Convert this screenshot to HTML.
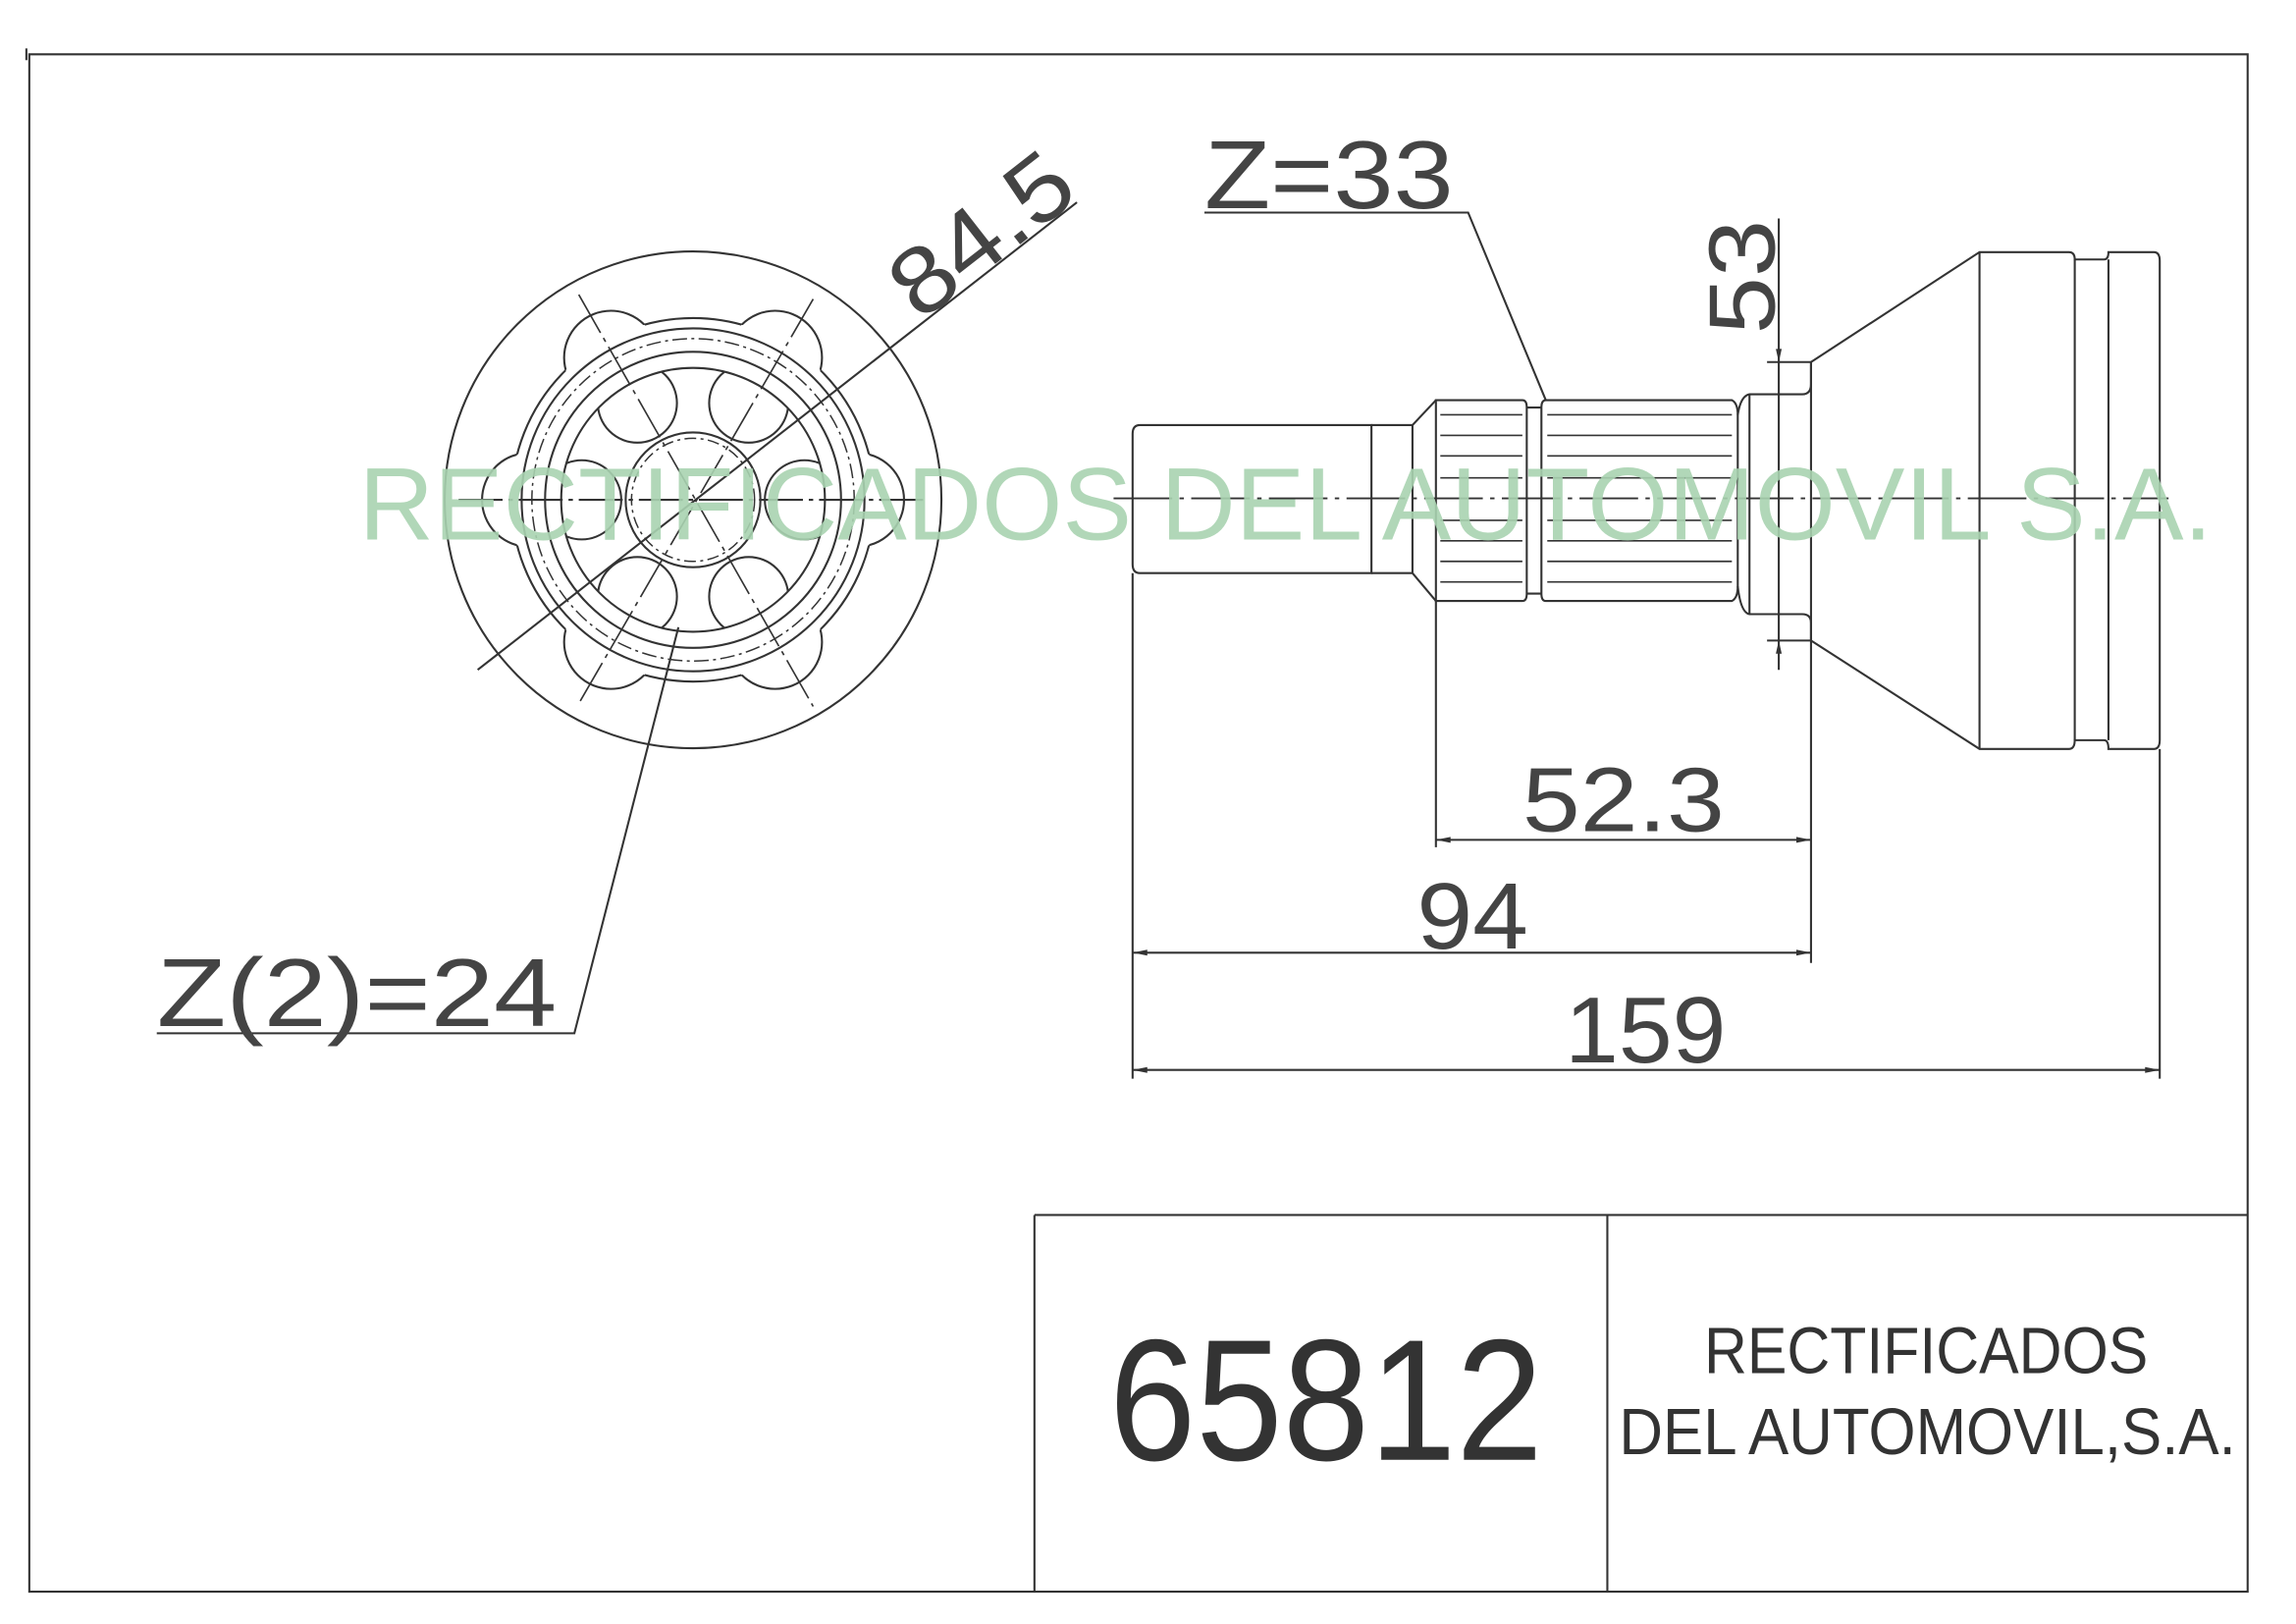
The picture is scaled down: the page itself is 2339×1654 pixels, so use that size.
<!DOCTYPE html>
<html><head><meta charset="utf-8"><style>html,body{margin:0;padding:0;background:#fff}svg{display:block}</style></head>
<body>
<svg width="2339" height="1654" viewBox="0 0 1567 1108" xmlns="http://www.w3.org/2000/svg">
<defs>
<mask id="outBase" maskUnits="userSpaceOnUse" x="0" y="0" width="1600" height="1200"><rect x="0" y="0" width="1600" height="1200" fill="white"/><circle cx="473" cy="341" r="124" fill="black"/></mask>
<mask id="outLobes" maskUnits="userSpaceOnUse" x="0" y="0" width="1600" height="1200"><rect x="0" y="0" width="1600" height="1200" fill="white"/>
<g fill="black">
<circle cx="585" cy="341" r="32"/><circle cx="361" cy="341" r="32"/>
<circle cx="529" cy="438" r="32"/><circle cx="417" cy="438" r="32"/>
<circle cx="529" cy="244" r="32"/><circle cx="417" cy="244" r="32"/></g></mask>
<mask id="ring" maskUnits="userSpaceOnUse" x="0" y="0" width="1600" height="1200"><rect x="0" y="0" width="1600" height="1200" fill="black"/><circle cx="473" cy="341" r="90" fill="white"/><circle cx="473" cy="341" r="46" fill="black"/></mask>
</defs>
<g fill="none" stroke="#333" stroke-width="1.4">
<path d="M20 37 H1534 V1086 H20 Z"/>
<path d="M18 33 V41"/>
<path d="M706 829 H1534 M706 829 V1086 M1097 829 V1086"/>

<circle cx="473" cy="341" r="169.5"/>
<circle cx="473" cy="341" r="124" mask="url(#outLobes)"/>
<g mask="url(#outBase)">
<circle cx="585" cy="341" r="32"/><circle cx="361" cy="341" r="32"/>
<circle cx="529" cy="438" r="32"/><circle cx="417" cy="438" r="32"/>
<circle cx="529" cy="244" r="32"/><circle cx="417" cy="244" r="32"/></g>
<circle cx="473" cy="341" r="117"/>
<circle cx="473" cy="341" r="110" stroke-dasharray="10 3 2 3" stroke-width="1"/>
<circle cx="473" cy="341" r="101"/>
<circle cx="473" cy="341" r="90"/>
<g mask="url(#ring)">
<circle cx="549" cy="341" r="27"/><circle cx="397" cy="341" r="27"/>
<circle cx="511" cy="407" r="27"/><circle cx="435" cy="407" r="27"/>
<circle cx="511" cy="275" r="27"/><circle cx="435" cy="275" r="27"/></g>
<circle cx="473" cy="341" r="46"/>
<circle cx="473" cy="341" r="42" stroke-dasharray="8 3 2 3" stroke-width="1"/>
<path d="M313 341 H634" stroke-dasharray="30 4 3 4"/>
<path d="M395 201 L555 482 M555 204 L395 480" stroke-dasharray="30 4 3 4" stroke-width="1.1"/>
<path d="M326 457 L735 138"/>
<path d="M107 705 H392 L463 428"/>

<path d="M760 340 H1480" stroke-dasharray="40 5 3 5" stroke-width="1.2"/>
<path d="M778 290 H936 V391 H778 Q773 391 773 385 V296 Q773 290 778 290 Z"/>
<path d="M936 290 H964 L980 273 M936 391 H964 L980 410 M964 290 V391"/>
<path d="M980 273 H1039 Q1042 273 1042 278 V405 Q1042 410 1039 410 H980 Z"/>
<path d="M1042 278 H1052 M1042 405 H1052"/>
<path d="M1055 273 H1182 Q1186 275 1186 283 V400 Q1186 408 1182 410 H1055 Q1052 410 1052 405 V278 Q1052 273 1055 273 Z"/>
<g stroke-width="1.1">
<path d="M983 283 H1039 M983 297 H1039 M983 311 H1039 M983 326 H1039 M983 355 H1039 M983 369 H1039 M983 383 H1039 M983 397 H1039"/>
<path d="M1056 283 H1182 M1056 297 H1182 M1056 311 H1182 M1056 326 H1182 M1056 355 H1182 M1056 369 H1182 M1056 383 H1182 M1056 397 H1182"/>
</g>
<path d="M1186 283 Q1188 270 1194 269 H1230 Q1236 269 1236 262 V247 M1186 400 Q1188 418 1194 419 H1230 Q1236 419 1236 425 V437"/>
<path d="M1194 269 V419"/>
<path d="M1236 247 L1351 172 H1412 Q1416 172 1416 177 H1436 Q1439 177 1439 172 H1470 Q1474 172 1474 178 V505 Q1474 511 1470 511 H1439 Q1439 505 1436 505 H1416 Q1416 511 1412 511 H1351 L1236 437"/>
<path d="M1351 172 V511 M1416 177 V505 M1439 177 V505 M1236 247 V437"/>

<path d="M980 410 V578 M1236 437 V657 M773 391 V736 M1474 511 V736"/>
<path d="M980 573 H1236 M773 650 H1236 M773 730 H1474"/>
<path d="M1214 149 V457 M1206 247 H1236 M1206 437 H1236"/>
<path d="M822 145 H1002 L1055 273"/>
</g>
<g fill="#333" stroke="none">
<path d="M980 573 l10 -2 v4 z M1236 573 l-10 -2 v4 z M773 650 l10 -2 v4 z M1236 650 l-10 -2 v4 z M773 730 l10 -2 v4 z M1474 730 l-10 -2 v4 z M1214 247 l-2 -9 h4 z M1214 437 l-2 9 h4 z"/>
</g>
<g font-family="Liberation Sans, sans-serif" fill="#444">
<text x="822" y="142" font-size="66" textLength="170" lengthAdjust="spacingAndGlyphs">Z=33</text>
<text x="107" y="700" font-size="66" textLength="273" lengthAdjust="spacingAndGlyphs">Z(2)=24</text>
<text x="1039" y="567" font-size="62" textLength="138" lengthAdjust="spacingAndGlyphs">52.3</text>
<text x="967" y="647" font-size="64" textLength="76" lengthAdjust="spacingAndGlyphs">94</text>
<text x="1068" y="725" font-size="64" textLength="110" lengthAdjust="spacingAndGlyphs">159</text>
<text transform="translate(1211,228) rotate(-90)" font-size="64" textLength="78" lengthAdjust="spacingAndGlyphs">53</text>
<text transform="translate(628,220) rotate(-38)" font-size="64" textLength="140" lengthAdjust="spacingAndGlyphs">84.5</text>
</g>
<g font-family="Liberation Sans, sans-serif" fill="#333">
<text x="757" y="996" font-size="118" textLength="296" lengthAdjust="spacingAndGlyphs">65812</text>
<text x="1163" y="937" font-size="45" textLength="303" lengthAdjust="spacingAndGlyphs">RECTIFICADOS</text>
<text x="1105" y="992" font-size="45" textLength="421" lengthAdjust="spacingAndGlyphs">DEL AUTOMOVIL,S.A.</text>
</g>
<text x="245" y="368" font-family="Liberation Sans, sans-serif" font-size="70" fill="#a8d3b0" fill-opacity="0.9" textLength="1265" lengthAdjust="spacingAndGlyphs">RECTIFICADOS DEL AUTOMOVIL S.A.</text>
</svg>
</body></html>
